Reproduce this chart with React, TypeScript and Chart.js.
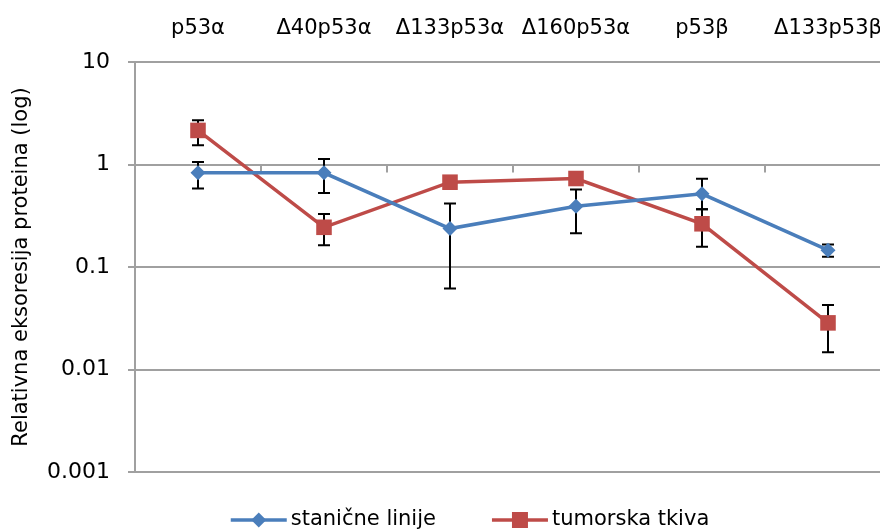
import React, { useEffect, useRef } from "react";
import { Chart, registerables } from "chart.js";

Chart.register(...registerables);

const categories = ["p53α", "Δ40p53α", "Δ133p53α", "Δ160p53α", "p53β", "Δ133p53β"];

const stanicneLinije = [0.83, 0.83, 0.237, 0.392, 0.518, 0.146];
const stanicneHigh = [1.06, 1.13, 0.417, 0.571, 0.726, 0.166];
const stanicneLow = [0.584, 0.526, 0.0616, 0.214, 0.365, 0.126];

const tumorskaTkiva = [2.15, 0.244, 0.672, 0.73, 0.264, 0.0285];
const tumorskaHigh: (number | null)[] = [2.7, 0.328, null, null, 0.365, 0.0427];
const tumorskaLow: (number | null)[] = [1.54, 0.163, null, null, 0.158, 0.0147];

const yTicks = [0.001, 0.01, 0.1, 1, 10];
const yTickLabels = ["0.001", "0.01", "0.1", "1", "10"];

const seriesNames = ["stanične linije", "tumorska tkiva"];
const yTitle = "Relativna eksoresija proteina (log)";

const BLUE = "#4a7ebb";
const RED = "#be4b48";
const GRID = "#a0a0a0";
const FONT = "DejaVu Sans";

const errorBarsPlugin = {
  id: "errorBarsAndAxis",
  beforeDatasetsDraw(chart: any) {
    const ctx = chart.ctx;
    const x = chart.scales.x;
    const y = chart.scales.y;
    const y1 = y.getPixelForValue(1);
    ctx.save();
    ctx.strokeStyle = GRID;
    ctx.lineWidth = 2;
    const step = x.getPixelForValue(1) - x.getPixelForValue(0);
    for (let i = 0; i < categories.length; i++) {
      const bx = Math.round(x.getPixelForValue(i) + step / 2);
      ctx.beginPath();
      ctx.moveTo(bx, y1);
      ctx.lineTo(bx, y1 + 8);
      ctx.stroke();
    }
    ctx.strokeStyle = "#000";
    ctx.lineWidth = 2;
    const draw = (hi: (number | null)[], lo: (number | null)[]) => {
      for (let i = 0; i < hi.length; i++) {
        const h = hi[i];
        const l = lo[i];
        if (h == null || l == null) continue;
        const px = Math.round(x.getPixelForValue(i));
        const ph = y.getPixelForValue(h);
        const pl = y.getPixelForValue(l);
        ctx.beginPath();
        ctx.moveTo(px, ph);
        ctx.lineTo(px, pl);
        ctx.moveTo(px - 6, ph);
        ctx.lineTo(px + 6, ph);
        ctx.moveTo(px - 6, pl);
        ctx.lineTo(px + 6, pl);
        ctx.stroke();
      }
    };
    draw(stanicneHigh, stanicneLow);
    draw(tumorskaHigh, tumorskaLow);
    ctx.restore();
  },
  afterDraw(chart: any) {
    const ctx = chart.ctx;
    ctx.save();
    ctx.font = `21px "${FONT}"`;
    ctx.textBaseline = "middle";
    const lineLen = 56;
    const gapText = 4;
    const gapItems = 56;
    const w1 = ctx.measureText(seriesNames[0]).width;
    const w2 = ctx.measureText(seriesNames[1]).width;
    const total = lineLen + gapText + w1 + gapItems + lineLen + gapText + w2;
    const cy = 520;
    let sx = 470 - total / 2;
    const items = [
      { color: BLUE, style: "diamond", text: seriesNames[0], w: w1 },
      { color: RED, style: "square", text: seriesNames[1], w: w2 },
    ];
    for (const it of items) {
      ctx.strokeStyle = it.color;
      ctx.fillStyle = it.color;
      ctx.lineWidth = 3.5;
      ctx.beginPath();
      ctx.moveTo(sx, cy);
      ctx.lineTo(sx + lineLen, cy);
      ctx.stroke();
      const mx = sx + lineLen / 2;
      ctx.beginPath();
      if (it.style === "diamond") {
        ctx.moveTo(mx, cy - 7.5);
        ctx.lineTo(mx + 7.5, cy);
        ctx.lineTo(mx, cy + 7.5);
        ctx.lineTo(mx - 7.5, cy);
        ctx.closePath();
      } else {
        ctx.rect(mx - 8, cy - 8, 16, 16);
      }
      ctx.fill();
      ctx.fillStyle = "#000";
      ctx.textAlign = "left";
      ctx.fillText(it.text, sx + lineLen + gapText, cy);
      sx += lineLen + gapText + it.w + gapItems;
    }
    ctx.restore();
  },
};

export default function App() {
  const ref = useRef<HTMLCanvasElement>(null);

  useEffect(() => {
    if (!ref.current) return;
    const chart = new Chart(ref.current, {
      type: "line",
      data: {
        labels: categories,
        datasets: [
          {
            label: seriesNames[0],
            data: stanicneLinije,
            borderColor: BLUE,
            backgroundColor: BLUE,
            borderWidth: 3.5,
            pointStyle: "rectRot",
            pointRadius: 7.5,
            pointBorderWidth: 0,
            pointBackgroundColor: BLUE,
            tension: 0,
          },
          {
            label: seriesNames[1],
            data: tumorskaTkiva,
            borderColor: RED,
            backgroundColor: RED,
            borderWidth: 3.5,
            pointStyle: "rect",
            pointRadius: 11,
            pointBorderWidth: 0,
            pointBackgroundColor: RED,
            tension: 0,
          },
        ],
      },
      options: {
        responsive: false,
        animation: false,
        devicePixelRatio: 1,
        layout: { autoPadding: false, padding: { left: 0, top: 0, right: 1, bottom: 60 } },
        plugins: {
          legend: { display: false },
          tooltip: { enabled: false },
        },
        scales: {
          x: {
            type: "category",
            position: "top",
            offset: true,
            grid: { display: false, drawTicks: false, tickLength: 0 },
            border: { display: false },
            ticks: {
              font: { family: FONT, size: 21 },
              color: "#000",
              padding: 21,
              maxRotation: 0,
              autoSkip: false,
            },
            afterFit: (scale: any) => {
              scale.height = 62;
              scale.paddingLeft = 0;
              scale.paddingRight = 0;
            },
          },
          y: {
            type: "logarithmic",
            min: 0.001,
            max: 10,
            afterBuildTicks: (scale: any) => {
              scale.ticks = yTicks.map((v) => ({ value: v }));
            },
            afterFit: (scale: any) => {
              scale.width = 135;
              scale.paddingTop = 0;
              scale.paddingBottom = 0;
            },
            grid: { color: GRID, lineWidth: 2, tickLength: 7, drawTicks: true },
            border: { display: true, color: GRID, width: 2 },
            ticks: {
              font: { family: FONT, size: 22 },
              color: "#000",
              padding: 18,
              callback: (_v: any, i: number) => yTickLabels[i],
            },
            title: {
              display: true,
              text: yTitle,
              font: { family: FONT, size: 21 },
              color: "#000",
              padding: { top: 9, bottom: 0 },
            },
          },
        },
      },
      plugins: [errorBarsPlugin],
    });
    return () => chart.destroy();
  }, []);

  return (
    <div
      style={{
        position: "fixed",
        left: 0,
        top: 0,
        width: 880,
        height: 532,
        overflow: "hidden",
        background: "#fff",
      }}
    >
      <canvas ref={ref} width={892} height={532} style={{ display: "block" }} />
    </div>
  );
}
